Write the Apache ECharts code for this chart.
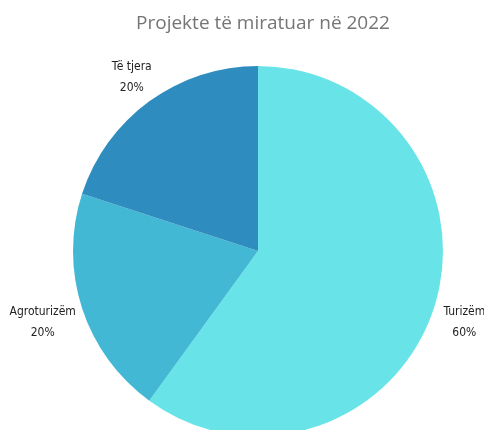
<!DOCTYPE html>
<html>
<head>
<meta charset="utf-8">
<script src="https://cdn.jsdelivr.net/npm/echarts@6/dist/echarts.min.js"></script>
<style>
  html, body { margin: 0; padding: 0; background: #fff; }
  #chart { width: 484px; height: 430px; }
</style>
</head>
<body>
<div id="chart"></div>
<script>
const categories = ["Turizëm", "Agroturizëm", "Të tjera"];
const values = [60, 20, 20];
const colors = ["#68E4E8", "#42B8D5", "#2E8DBE"];
// small nudges of each label, in px
const labelShift = [[5, 12], [2, 12], [11, -19]];

const chart = echarts.init(document.getElementById("chart"));

chart.setOption({
  animation: false,
  title: {
    text: "Projekte të miratuar në 2022",
    left: 258,
    textAlign: "center",
    top: 9,
    textStyle: {
      fontFamily: "Open Sans",
      fontSize: 19,
      fontWeight: "normal",
      color: "#757575"
    }
  },
  series: [
    {
      type: "pie",
      center: [258, 251],
      radius: 185,
      startAngle: 90,
      clockwise: true,
      data: categories.map((name, i) => ({
        name: name,
        value: values[i],
        itemStyle: { color: colors[i] }
      })),
      label: {
        show: true,
        position: "outside",
        overflow: "none",
        formatter: "{t|{b}}\n{t|{d}%}",
        rich: {
          t: {
            align: "center",
            fontFamily: "DejaVu Sans Condensed",
            fontSize: 12,
            lineHeight: 21,
            color: "#222"
          }
        }
      },
      labelLine: { show: false, length: 6, length2: 0 },
      labelLayout: function (params) {
        const s = labelShift[params.dataIndex];
        return { dx: s[0], dy: s[1] };
      }
    }
  ]
});
</script>
</body>
</html>
